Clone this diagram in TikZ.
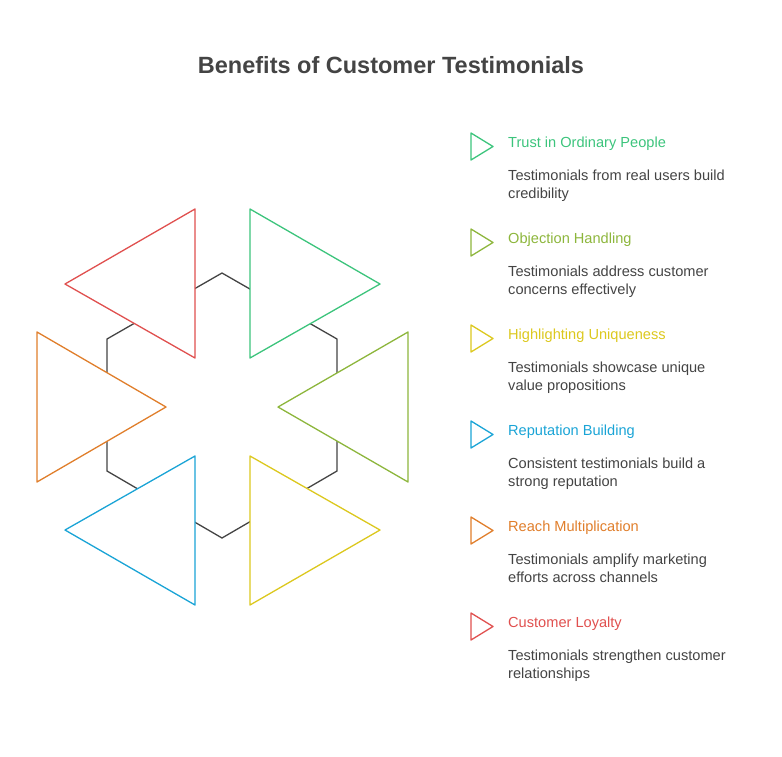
\documentclass[tikz,border=0pt]{standalone}
\usepackage{fontspec}
\setmainfont{Liberation Sans}
\usetikzlibrary{positioning}
\definecolor{cgreen}{HTML}{3CC47C}
\definecolor{colive}{HTML}{8DB63C}
\definecolor{cyellow}{HTML}{DCC81E}
\definecolor{cblue}{HTML}{1AA4D6}
\definecolor{corange}{HTML}{E07E2B}
\definecolor{cred}{HTML}{E0504F}
\definecolor{ctext}{HTML}{444444}
\begin{document}
\begin{tikzpicture}[x=1pt, y=-1pt,
    tri/.style={draw=#1, line width=1.3pt, fill=white, line join=round},
    mark tri/.style={draw=#1, line width=1.3pt, line join=round},
    head/.style={anchor=west, text=#1, font=\fontsize{14.6}{17}\selectfont, inner sep=0pt},
    desc/.style={anchor=north west, text=ctext, font=\fontsize{14.6}{18}\selectfont, align=left, inner sep=0pt}
]
    \useasboundingbox (0,0) rectangle (782,756);
    \node[font=\bfseries\fontsize{23.5}{27}\selectfont, text=ctext] (title) at (391,65) {Benefits of Customer Testimonials};
    % hexagon behind the triangles
    \draw[ctext, line width=1.3pt] (222,273) -- (337,339) -- (337,471) -- (222,538) -- (107,471) -- (107,339) -- cycle;
    % triangles
    \draw[tri=cred] (195,209) -- (195,358) -- (65,284) -- cycle;
    \draw[tri=corange] (37,332) -- (37,482) -- (166,407) -- cycle;
    \draw[tri=cblue] (195,456) -- (195,605) -- (65,530) -- cycle;
    \draw[tri=cyellow] (250,456) -- (250,605) -- (380,530) -- cycle;
    \draw[tri=colive] (408,332) -- (408,482) -- (278,407) -- cycle;
    \draw[tri=cgreen] (250,209) -- (250,358) -- (380,284) -- cycle;
    % legend
    \foreach \i/\c/\h/\d in {0/cgreen/Trust in Ordinary People/{Testimonials from real users build\\credibility},
        1/colive/Objection Handling/{Testimonials address customer\\concerns effectively},
        2/cyellow/Highlighting Uniqueness/{Testimonials showcase unique\\value propositions},
        3/cblue/Reputation Building/{Consistent testimonials build a\\strong reputation},
        4/corange/Reach Multiplication/{Testimonials amplify marketing\\efforts across channels},
        5/cred/Customer Loyalty/{Testimonials strengthen customer\\relationships}} {
        \draw[mark tri=\c] (471,{133+96*\i}) -- (471,{160+96*\i}) -- (493,{146.5+96*\i}) -- cycle;
        \node[head=\c] (h\i) at (508,{144+96*\i}) {\h};
        \node[desc] (d\i) at (508,{170+96*\i}) {\d};
    }
\end{tikzpicture}
\end{document}
